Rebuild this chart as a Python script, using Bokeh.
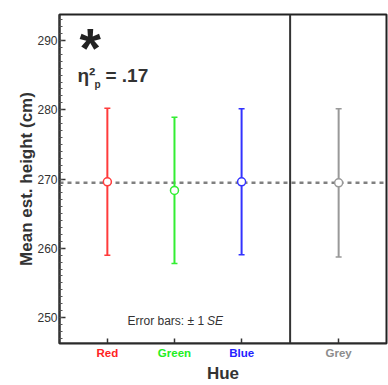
from bokeh.plotting import figure
from bokeh.models import (ColumnDataSource, FactorRange, Range1d, Span, Label, LinearAxis,
                          FixedTicker, CustomJSTickFormatter, SingleIntervalTicker,
                          CustomLabelingPolicy)
from bokeh.embed import file_html
from bokeh.resources import INLINE

# ---- data ----
hues = ["Red", "Green", "Blue", "Grey"]
groups = ["chromatic", "chromatic", "chromatic", "achromatic"]
means = [269.6, 268.35, 269.6, 269.45]
ses = [10.6, 10.55, 10.55, 10.7]
colors = ["#ff3b3b", "#33ee33", "#3333ff", "#999999"]
label_colors = ["#ff2222", "#22ee22", "#2222ff", "#8c8c8c"]
grand_mean = 269.47
effect_size = ".17"
y_ticks_interval = 10

FONT = "Liberation Sans"
x = list(zip(groups, hues))
src = ColumnDataSource(dict(
    x=x, mean=means,
    upper=[m + s for m, s in zip(means, ses)],
    lower=[m - s for m, s in zip(means, ses)],
    color=colors))

GP = 0.446
xr = FactorRange(factors=x, factor_padding=0, group_padding=GP,
                 range_padding=0.0958, range_padding_units="percent")


def synthetic(i):
    # position of factor i on the FactorRange's synthetic axis
    changes = sum(1 for k in range(1, i + 1) if groups[k] != groups[k - 1])
    return i + 0.5 + GP * changes


ystart, yend = 246.25, 293.75
p = figure(x_range=xr, y_range=Range1d(ystart, yend), width=388, height=385,
           output_backend="svg", toolbar_location=None,
           min_border_left=59, min_border_right=2, min_border_top=14, min_border_bottom=42)
p.xgrid.visible = False
p.ygrid.visible = False
p.outline_line_color = "#222222"
p.outline_line_width = 2
p.background_fill_color = "white"
p.border_fill_color = "white"

# y axis
ya = p.yaxis[0]
ya.ticker = SingleIntervalTicker(interval=y_ticks_interval, num_minor_ticks=10)
ya.major_tick_in = 6
ya.major_tick_out = 0
ya.minor_tick_in = 3
ya.minor_tick_out = 0
ya.axis_line_width = 2
ya.axis_line_color = "#333333"
ya.major_tick_line_color = "#333333"
ya.major_tick_line_width = 1.5
ya.minor_tick_line_color = "#555555"
ya.major_label_text_font = FONT
ya.major_label_text_font_size = "12px"
ya.major_label_text_color = "#333333"
ya.major_label_standoff = 2
ya.axis_label = "Mean est. height (cm)"
ya.axis_label_text_font = FONT
ya.axis_label_text_font_style = "bold"
ya.axis_label_text_font_size = "17px"
ya.axis_label_text_color = "#333333"
ya.axis_label_standoff = -2

# x axis: line and ticks only (fixed at the frame bottom, takes no space)
xa = p.xaxis[0]
xa.fixed_location = ystart
xa.major_tick_in = 5
xa.major_tick_out = 0
xa.axis_line_width = 2
xa.axis_line_color = "#333333"
xa.major_tick_line_color = "#333333"
xa.major_tick_line_width = 1.5
xa.major_label_text_font_size = "0px"
xa.group_text_font_size = "0px"
xa.major_label_standoff = 0
xa.major_label_policy = CustomLabelingPolicy(code="return []")
xa.separator_line_alpha = 0

# one stacked axis per hue, so that each category label has its own colour;
# the later ones use a negative standoff so that all labels sit on one row
LABEL_H = 15
for i, (name, col) in enumerate(zip(hues, label_colors)):
    ax = LinearAxis(ticker=FixedTicker(ticks=[synthetic(i)]),
                    formatter=CustomJSTickFormatter(args=dict(name=name), code="return name"))
    ax.axis_line_color = None
    ax.major_tick_line_color = None
    ax.minor_tick_line_color = None
    ax.major_tick_out = 0
    ax.major_tick_in = 0
    ax.major_label_standoff = 3 if i == 0 else -LABEL_H
    ax.major_label_text_font = FONT
    ax.major_label_text_font_style = "bold"
    ax.major_label_text_font_size = "11.5px"
    ax.major_label_text_color = col
    if i == len(hues) - 1:
        ax.axis_label = "Hue"
        ax.axis_label_text_font = FONT
        ax.axis_label_text_font_style = "bold"
        ax.axis_label_text_font_size = "17px"
        ax.axis_label_text_color = "#333333"
        ax.axis_label_standoff = 2
    p.add_layout(ax, "below")

# separator between chromatic and grey panels
sep = (synthetic(2) + synthetic(3)) / 2
p.add_layout(Span(location=sep, dimension="height", line_color="#333333", line_width=2))
# grand mean line
p.add_layout(Span(location=grand_mean, dimension="width", line_color="#808080",
                  line_width=2.5, line_dash="4 4", level="underlay"))

# error bars
p.segment(x0="x", y0="lower", x1="x", y1="upper", line_color="color", line_width=2,
          source=src)
p.scatter(x="x", y="upper", marker="dash", size=6, line_color="color", line_width=1.5,
          source=src)
p.scatter(x="x", y="lower", marker="dash", size=6, line_color="color", line_width=1.5,
          source=src)
p.scatter(x="x", y="mean", marker="circle", size=8, fill_color="white",
          line_color="color", line_width=1.5, source=src)

# annotations
p.add_layout(Label(x=0.084, y=293.4, text="*", text_font=FONT, text_font_style="bold",
                   text_font_size="55px", text_color="#222222", text_baseline="top"))
ex, ey = 0.0545, 283.4
p.add_layout(Label(x=ex, y=ey, text="η²", text_font=FONT, text_font_style="bold",
                   text_font_size="19px", text_color="#333333"))
p.add_layout(Label(x=ex, y=ey, x_offset=17, y_offset=-4, text="p", text_font=FONT,
                   text_font_style="bold", text_font_size="10px", text_color="#333333"))
p.add_layout(Label(x=ex, y=ey, x_offset=28, text="= " + effect_size, text_font=FONT,
                   text_font_style="bold", text_font_size="19px", text_color="#333333"))
p.add_layout(Label(x=1.941, y=248.56, text="Error bars: ± 1", text_font=FONT,
                   text_font_size="12px", text_color="#333333", text_align="right"))
p.add_layout(Label(x=1.941, y=248.56, x_offset=3, text="SE", text_font=FONT,
                   text_font_style="italic", text_font_size="12px", text_color="#333333",
                   text_align="left"))

open("out.html", "w").write(file_html(p, INLINE))
